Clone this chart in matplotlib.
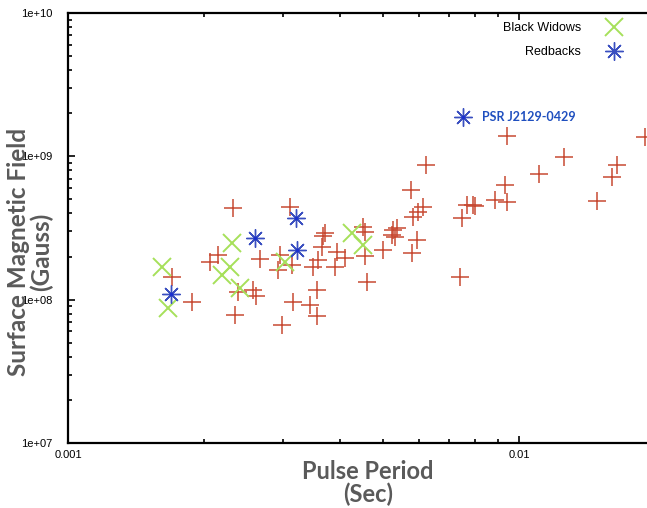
import numpy as np
import matplotlib.pyplot as plt
from matplotlib.ticker import LogLocator, NullFormatter, FixedFormatter, FixedLocator

# ---- data (period in s, B-field in Gauss)
msp_period = [0.00232, 0.00311, 0.00215, 0.00206, 0.00267, 0.00170, 0.00188, 0.00238,
              0.00257, 0.00261, 0.00235, 0.00295, 0.00292, 0.00314, 0.00372, 0.00368,
              0.00366, 0.00358, 0.00349, 0.00395, 0.00411, 0.00391, 0.00451, 0.00456,
              0.00456, 0.00460, 0.00315, 0.00344, 0.00356, 0.00356, 0.00298, 0.00622,
              0.00576, 0.00612, 0.00597, 0.00582, 0.00767, 0.00791, 0.00747, 0.00526,
              0.00536, 0.00523, 0.00531, 0.00499, 0.00594, 0.00579, 0.00740, 0.00940,
              0.0126, 0.0111, 0.00931, 0.00885, 0.00940, 0.00799, 0.0149, 0.0161,
              0.0165, 0.0190]
msp_field = [4.36e8, 4.43e8, 2.05e8, 1.83e8, 1.92e8, 1.44e8, 9.6e7, 1.13e8,
             1.17e8, 1.06e8, 7.8e7, 2.05e8, 1.61e8, 1.74e8, 2.92e8, 2.78e8,
             2.33e8, 1.89e8, 1.69e8, 2.15e8, 1.95e8, 1.69e8, 3.21e8, 2.96e8,
             2.01e8, 1.33e8, 9.6e7, 9.2e7, 1.17e8, 7.7e7, 6.65e7, 8.7e8,
             5.82e8, 4.43e8, 4.08e8, 3.77e8, 4.57e8, 4.57e8, 3.71e8, 3.06e8,
             3.16e8, 2.82e8, 2.73e8, 2.22e8, 2.61e8, 2.11e8, 1.44e8, 1.39e9,
             9.9e8, 7.52e8, 6.3e8, 4.96e8, 4.8e8, 4.5e8, 4.88e8, 7.18e8,
             8.7e8, 1.36e9]

bw_period = [0.00231, 0.00229, 0.00219, 0.00162, 0.00167, 0.00241, 0.00303, 0.00426, 0.00451]
bw_field = [2.48e8, 1.69e8, 1.49e8, 1.69e8, 8.7e7, 1.2e8, 1.83e8, 2.92e8, 2.4e8]

rb_period = [0.00260, 0.00320, 0.00322, 0.00169, 0.00751]
rb_field = [2.69e8, 3.71e8, 2.22e8, 1.09e8, 1.88e9]

highlight = "PSR J2129-0429"
highlight_idx = 4

RED = "#c74a33"
GREEN = "#a6e05a"
BLUE = "#3a4fc0"
LABEL_GREY = "#5a5a5a"

plt.rcParams["font.family"] = ["Liberation Sans", "DejaVu Sans"]

fig = plt.figure(figsize=(6.47, 5.08), dpi=100)
W, H = 647, 508
# axes box in pixels: left 68, top 13, bottom 443, right runs off the canvas
ax = fig.add_axes([68 / W, (H - 443) / H, (W - 68) / W, 430 / H])

asterisk = (8, 2, 0)
ax.plot(msp_period, msp_field, ls="none", marker="+", ms=13, mew=1.1, color=RED)
ax.plot(bw_period, bw_field, ls="none", marker="x", ms=12.5, mew=1.4, color=GREEN,
        label="Black Widows")
ax.plot(rb_period, rb_field, ls="none", marker=asterisk, ms=13, mew=1.0, color=BLUE,
        label="Redbacks")
ax.plot(rb_period, rb_field, ls="none", marker="o", ms=2.5, mew=0, color="#1a2fd0")

ax.annotate(highlight, (rb_period[highlight_idx], rb_field[highlight_idx]),
            xytext=(14, 0), textcoords="offset points", va="center", ha="left",
            color="#1f4fbf", fontsize=9, fontweight="bold", family=["Lato", "DejaVu Sans"])

ax.set_xscale("log")
ax.set_yscale("log")
ax.set_xlim(0.001, 10 ** (-3 + 579 / 451))
ax.set_ylim(1e7, 1e10)

ax.xaxis.set_major_locator(FixedLocator([0.001, 0.01]))
ax.xaxis.set_major_formatter(FixedFormatter(["0.001", "0.01"]))
ax.xaxis.set_minor_locator(LogLocator(base=10, subs=np.arange(2, 10)))
ax.xaxis.set_minor_formatter(NullFormatter())
ax.yaxis.set_major_locator(FixedLocator([1e7, 1e8, 1e9, 1e10]))
ax.yaxis.set_major_formatter(FixedFormatter(["1e+07", "1e+08", "1e+09", "1e+10"]))
ax.yaxis.set_minor_locator(LogLocator(base=10, subs=np.arange(2, 10)))
ax.yaxis.set_minor_formatter(NullFormatter())

ax.tick_params(which="both", direction="in", top=True, right=False, width=1.2)
ax.tick_params(which="major", length=5, labelsize=8)
ax.tick_params(which="minor", length=3)
ax.tick_params(axis="y", pad=11)
ax.tick_params(axis="x", pad=5)
for side in ["left", "top", "bottom"]:
    ax.spines[side].set_linewidth(1.6)
ax.spines["right"].set_visible(False)

leg = ax.legend(loc="upper right", bbox_to_anchor=(626 / W, 1 - 22 / H),
                bbox_transform=fig.transFigure, frameon=False, markerfirst=False,
                fontsize=9, handletextpad=1.6, labelspacing=0.95, borderpad=0,
                borderaxespad=0)

lab = dict(color=LABEL_GREY, fontweight="bold", family=["Lato", "DejaVu Sans"],
           ha="center", va="center", linespacing=1.0)
fig.text(368 / W, 1 - 483 / H, "Pulse Period\n(Sec)", fontsize=17, **lab)
fig.text(30 / W, 1 - 252 / H, "Surface Magnetic Field\n(Gauss)", rotation=90,
         fontsize=17.5, **lab)

fig.savefig("out.png", dpi=100)
